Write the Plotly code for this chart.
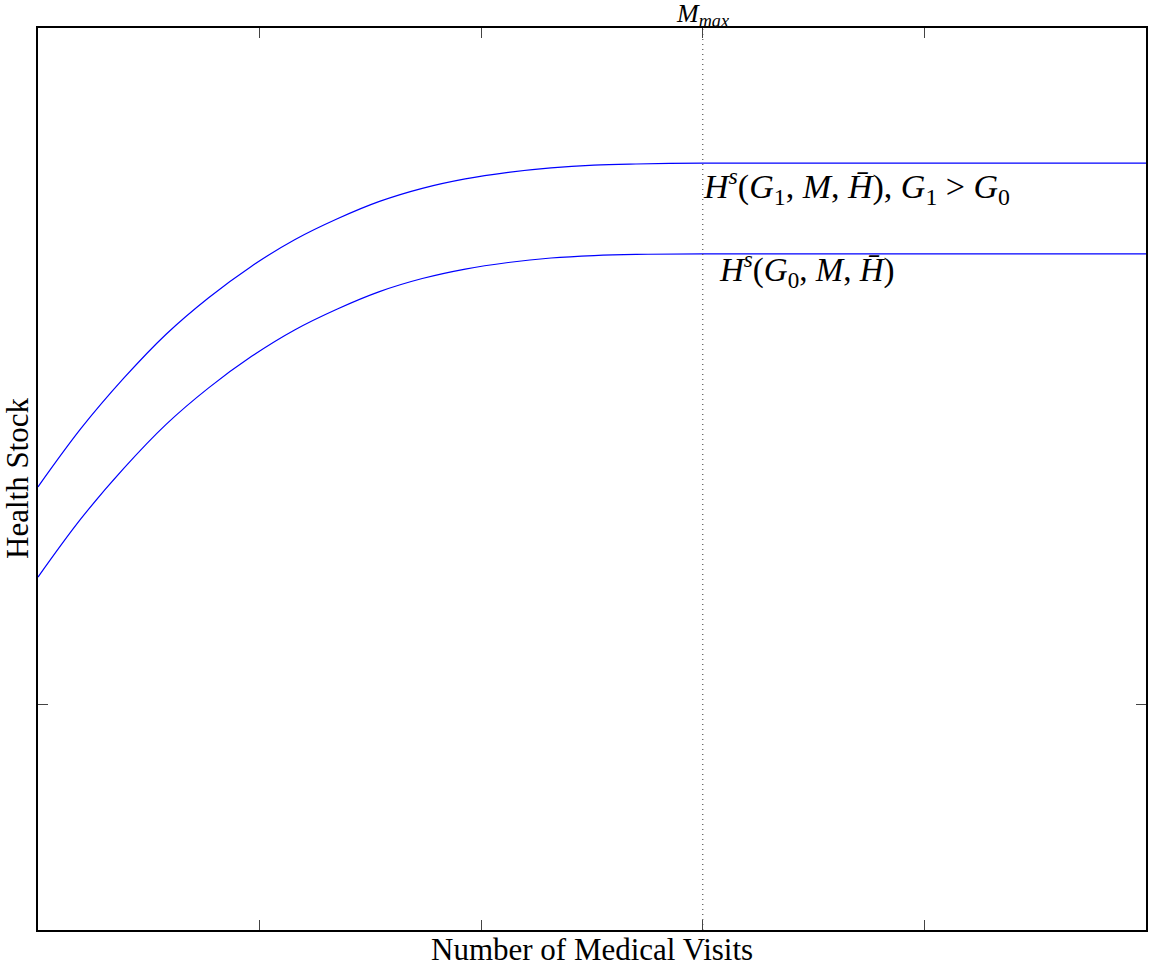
import plotly.graph_objects as go

# Data (x: medical visits, y: health stock)
visits = [0.0, 0.194, 0.387, 0.577, 0.770, 0.964, 1.158, 1.351, 1.541, 1.734,
          1.928, 2.122, 2.315, 2.509, 2.698, 3.0, 5.0]
health_g1 = [1.965, 2.224, 2.447, 2.641, 2.804, 2.944, 3.061, 3.154, 3.231, 3.289,
             3.331, 3.360, 3.380, 3.392, 3.397, 3.401, 3.401]
health_g0 = [1.565, 1.824, 2.047, 2.241, 2.404, 2.544, 2.661, 2.754, 2.831, 2.889,
             2.931, 2.960, 2.980, 2.991, 2.996, 2.998, 2.998]
m_max = 3.0
x_range = [0, 5]
y_range = [0, 4]
x_ticks = [1, 2, 3, 4]
y_ticks = [1]

SERIF = "Liberation Serif, DejaVu Serif, serif"
BLUE = "#0000ff"

fig = go.Figure()
for series in (health_g1, health_g0):
    fig.add_trace(go.Scatter(x=visits, y=series, mode="lines",
                             line=dict(color=BLUE, width=1.2, shape="spline", smoothing=1.0),
                             showlegend=False))
fig.add_trace(go.Scatter(x=[m_max, m_max], y=y_range, mode="lines",
                         line=dict(color="#333333", width=1, dash="1px,4px"), showlegend=False))

fig.add_annotation(x=m_max - 0.01, y=3.295, xref="x", yref="y", xanchor="left", yanchor="middle",
                   showarrow=False,
                   text="<i>H</i><sup><i>s</i></sup>(<i>G</i><sub>1</sub>, <i>M</i>, <i>H̄</i>), <i>G</i><sub>1</sub> &gt; <i>G</i><sub>0</sub>",
                   font=dict(family=SERIF, size=34, color="black"))
fig.add_annotation(x=3.063, y=2.927, xref="x", yref="y", xanchor="left", yanchor="middle",
                   showarrow=False,
                   text="<i>H</i><sup><i>s</i></sup>(<i>G</i><sub>0</sub>, <i>M</i>, <i>H̄</i>)",
                   font=dict(family=SERIF, size=33, color="black"))
fig.add_annotation(x=m_max, y=1, xref="x", yref="paper", xanchor="center", yanchor="bottom",
                   yshift=-5, showarrow=False,
                   text="<i>M</i><sub><i>max</i></sub>",
                   font=dict(family=SERIF, size=26, color="black"))
fig.add_annotation(x=0.5, y=0, xref="paper", yref="paper", xanchor="center", yanchor="bottom",
                   yshift=-39, showarrow=False, text="Number of Medical Visits",
                   font=dict(family=SERIF, size=31, color="black"))
fig.add_annotation(x=0, y=0.5, xref="paper", yref="paper", xanchor="center", yanchor="middle",
                   xshift=-21, textangle=-90, showarrow=False, text="Health Stock",
                   font=dict(family=SERIF, size=31, color="black"))

axis_common = dict(showgrid=False, zeroline=False, showline=True, linecolor="black",
                   linewidth=1.5, mirror="ticks", ticks="inside", ticklen=10,
                   tickcolor="#444", tickwidth=1, showticklabels=False)
fig.update_xaxes(range=x_range, tickvals=x_ticks, **axis_common)
fig.update_yaxes(range=y_range, tickvals=y_ticks, **axis_common)

fig.update_layout(width=1151, height=970, margin=dict(l=38, r=3, t=28, b=40),
                  plot_bgcolor="white", paper_bgcolor="white",
                  font=dict(family=SERIF, color="black"))

fig.write_html("out.html", config={"displayModeBar": False},
               post_script="document.body.style.margin='0';document.body.style.overflow='hidden';")
